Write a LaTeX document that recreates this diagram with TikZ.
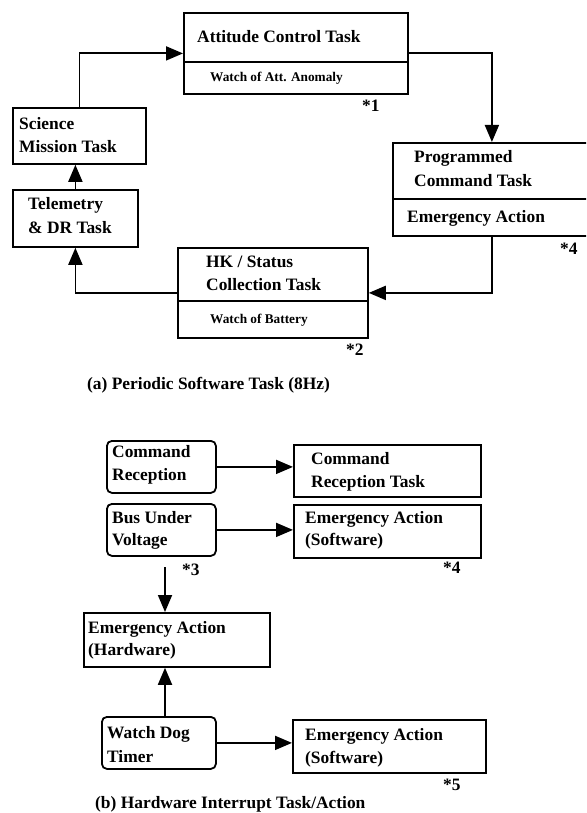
\documentclass[tikz,border=0pt]{standalone}
\usepackage{fontspec}
\setmainfont{Liberation Serif}
\usetikzlibrary{arrows.meta}
\tikzset{
  box/.style={draw, line width=1.8pt, inner sep=0pt, anchor=north west},
  rbox/.style={box, rounded corners=5pt},
  txt/.style={inner sep=0pt, anchor=base west, font=\fontsize{17.4}{20}\selectfont\bfseries},
  stxt/.style={inner sep=0pt, anchor=base west, font=\fontsize{13.3}{16}\selectfont\bfseries},
  arr/.style={line width=1.8pt, -{Triangle[length=17pt, width=14pt]}},
  divl/.style={line width=1.8pt}
}
\begin{document}
\begin{tikzpicture}[x=1pt, y=-1pt]
\useasboundingbox (0,0) rectangle (586,813);
\clip (0,0) rectangle (586,813);
% ---------- (a) ----------
\node[box, minimum width=224pt, minimum height=81pt] (att) at (183,12) {};
\draw[divl] (att.west |- 0,62) -- (att.east |- 0,62);
\node[txt] (attT) at (197,43) {Attitude Control Task};
\node[stxt] (attW) at (210,82) {Watch of Att. Anomaly};
\node[txt] (s1) at (362,112) {*1};

\node[box, minimum width=133pt, minimum height=56pt] (sci) at (12,107) {};
\node[txt] (sciT1) at (19,130) {Science};
\node[txt] (sciT2) at (19,153) {Mission Task};

\node[box, minimum width=125pt, minimum height=57pt] (tel) at (12,189) {};
\node[txt] (telT1) at (28,209) {Telemetry};
\node[txt] (telT2) at (28,233) {\& DR Task};

\node[box, minimum width=198pt, minimum height=93pt] (prog) at (392,142) {};
\draw[divl] (prog.west |- 0,199) -- (prog.east |- 0,199);
\node[txt] (progT1) at (414,163) {Programmed};
\node[txt] (progT2) at (414,186) {Command Task};
\node[txt] (progE) at (407,222) {Emergency Action};
\node[txt] (s4a) at (560,254) {*4};

\node[box, minimum width=190pt, minimum height=90pt] (hk) at (177,247) {};
\draw[divl] (hk.west |- 0,301) -- (hk.east |- 0,301);
\node[txt] (hkT1) at (206,267) {HK / Status};
\node[txt] (hkT2) at (206,290) {Collection Task};
\node[stxt] (hkW) at (210,323) {Watch of Battery};
\node[txt] (s2) at (346,355) {*2};

\draw[arr] (sci.north) |- (att.west);
\draw[arr] (att.east) -| (prog.north);
\draw[arr] (prog.south) |- (hk.east);
\draw[arr] (hk.west) -| (tel.south);
\draw[arr] (tel.north) -- (tel.north |- sci.south);

\node[txt] (capa) at (87,389) {(a) Periodic Software Task (8Hz)};

% ---------- (b) ----------
\node[rbox, minimum width=109pt, minimum height=52pt] (cr) at (106,440) {};
\node[txt] (crT1) at (112,457) {Command};
\node[txt] (crT2) at (112,480) {Reception};

\node[box, minimum width=187pt, minimum height=52pt] (crt) at (293,444) {};
\node[txt] (crtT1) at (311,464) {Command};
\node[txt] (crtT2) at (311,487) {Reception Task};

\node[rbox, minimum width=109pt, minimum height=52pt] (buv) at (106,503) {};
\node[txt] (buvT1) at (112,523) {Bus Under};
\node[txt] (buvT2) at (112,545) {Voltage};

\node[box, minimum width=187pt, minimum height=53pt] (eas) at (293,504) {};
\node[txt] (easT1) at (305,523) {Emergency Action};
\node[txt] (easT2) at (305,545) {(Software)};
\node[txt] (s4b) at (443,573) {*4};
\node[txt] (s3) at (182,575) {*3};

\node[box, minimum width=186pt, minimum height=54pt] (hw) at (83,612) {};
\node[txt] (hwT1) at (88,633) {Emergency Action};
\node[txt] (hwT2) at (88,655) {(Hardware)};

\node[rbox, minimum width=114pt, minimum height=52pt] (wdt) at (101,716) {};
\node[txt] (wdtT1) at (107,738) {Watch Dog};
\node[txt] (wdtT2) at (107,762) {Timer};

\node[box, minimum width=193pt, minimum height=53pt] (eas2) at (292,719) {};
\node[txt] (eas2T1) at (305,740) {Emergency Action};
\node[txt] (eas2T2) at (305,763) {(Software)};
\node[txt] (s5) at (443,790) {*5};

\coordinate (c3) at (165,567);
\draw[arr] (cr.east) -- (cr.east -| crt.west);
\draw[arr] (buv.east) -- (buv.east -| eas.west);
\draw[arr] (c3) -- (c3 |- hw.north);
\draw[arr] (c3 |- wdt.north) -- (c3 |- hw.south);
\draw[arr] (wdt.east) -- (wdt.east -| eas2.west);

\node[txt] (capb) at (95,808) {(b) Hardware Interrupt Task/Action};
\end{tikzpicture}
\end{document}
